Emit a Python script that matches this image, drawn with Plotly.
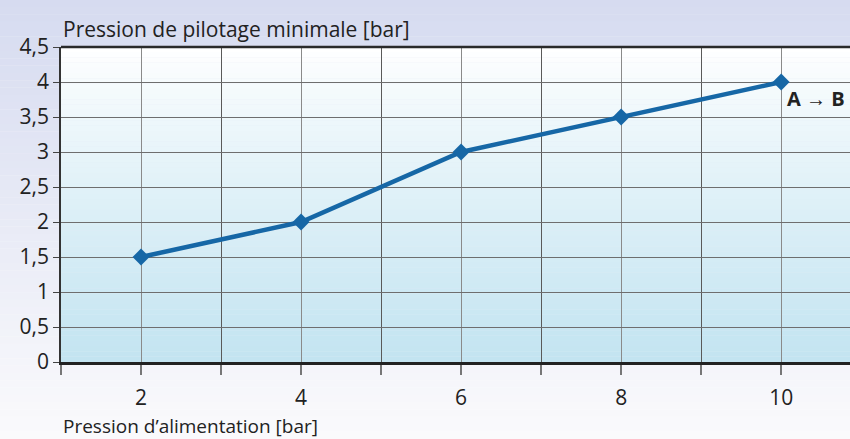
import plotly.graph_objects as go

x_vals = [2, 4, 6, 8, 10]
y_vals = [1.5, 2, 3, 3.5, 4]
x_ticks = [2, 4, 6, 8, 10]
y_ticks = [0, 0.5, 1, 1.5, 2, 2.5, 3, 3.5, 4, 4.5]
y_title = "Pression de pilotage minimale [bar]"
x_title = "Pression d\u2019alimentation [bar]"
series_label = "A \u2192 B"

W, H = 850, 439
L, T, B = 61, 47, 77
font_family = "Open Sans, Noto Sans, sans-serif"


def lerp(c1, c2, t):
    return "rgb(%d,%d,%d)" % tuple(round(a + (b - a) * t) for a, b in zip(c1, c2))


shapes = []
# figure background gradient (lavender top -> near white bottom)
n = 60
plot_h = H - T - B
top_paper = (H - B) / plot_h
bot_paper = -B / plot_h
for i in range(n):
    y0 = top_paper - (top_paper - bot_paper) * i / n
    y1 = top_paper - (top_paper - bot_paper) * (i + 1) / n
    shapes.append(dict(type="rect", xref="paper", yref="paper", x0=-0.2, x1=1.2,
                       y0=y1, y1=y0 + 0.001, line=dict(width=0), layer="below",
                       fillcolor=lerp((214, 219, 240), (250, 250, 252), i / (n - 1))))
# plot area gradient (white top -> light blue bottom)
for i in range(n):
    y1 = 1 - i / n
    y0 = 1 - (i + 1) / n
    t = (i / (n - 1)) ** 0.85
    shapes.append(dict(type="rect", xref="x domain", yref="y domain", x0=0, x1=1,
                       y0=y0, y1=y1 + 0.001, line=dict(width=0), layer="below",
                       fillcolor=lerp((255, 255, 255), (195, 228, 241), t)))
# top border
shapes.append(dict(type="line", xref="x domain", yref="y domain", x0=0, x1=1, y0=1, y1=1,
                   line=dict(color="#2a2a2a", width=2.5), layer="above"))

fig = go.Figure()
fig.add_trace(go.Scatter(
    x=x_vals, y=y_vals, mode="lines+markers",
    line=dict(color="#1667a6", width=4.5),
    marker=dict(symbol="diamond", size=13, color="#1667a6"),
    cliponaxis=False, showlegend=False, hoverinfo="skip",
))

fig.update_layout(
    width=W, height=H,
    margin=dict(l=L, r=0, t=T, b=B),
    paper_bgcolor="rgba(0,0,0,0)",
    plot_bgcolor="rgba(0,0,0,0)",
    separators=", ",
    font=dict(family=font_family, color="#222222", size=21),
    shapes=shapes,
    xaxis=dict(
        range=[1, 10.86], tickvals=x_ticks, ticks="", showgrid=True,
        gridcolor="#8a8a8a", gridwidth=1,
        showline=True, linecolor="#222222", linewidth=3,
        zeroline=False, ticklabelstandoff=15,
        tickfont=dict(size=21),
        minor=dict(dtick=1, tick0=1, showgrid=True, gridcolor="#5a5a5a", gridwidth=1.2,
                   ticks="outside", ticklen=10, tickcolor="#777777", tickwidth=1.5),
    ),
    yaxis=dict(
        range=[0, 4.5], tickvals=y_ticks, ticks="outside", ticklen=6,
        tickcolor="#444444", showgrid=True, gridcolor="#6e6e6e", gridwidth=1,
        showline=True, linecolor="#333333", linewidth=1.5, zeroline=False,
        tickfont=dict(size=21),
    ),
    annotations=[
        dict(text=y_title, xref="paper", yref="paper", x=0, y=1, xanchor="left",
             yanchor="bottom", yshift=2, showarrow=False, font=dict(size=21)),
        dict(text=x_title, xref="paper", yref="paper", x=0, y=0, xanchor="left",
             yanchor="top", yshift=-49, showarrow=False, font=dict(size=19)),
        dict(text="<b>" + series_label + "</b>", x=x_vals[-1], y=y_vals[-1], xanchor="left",
             yanchor="top", xshift=4, yshift=-1, showarrow=False, font=dict(size=20)),
    ],
)

fig.write_html("out.html", config={"displayModeBar": False},
               post_script="document.body.style.margin='0';document.body.style.overflow='hidden';")
